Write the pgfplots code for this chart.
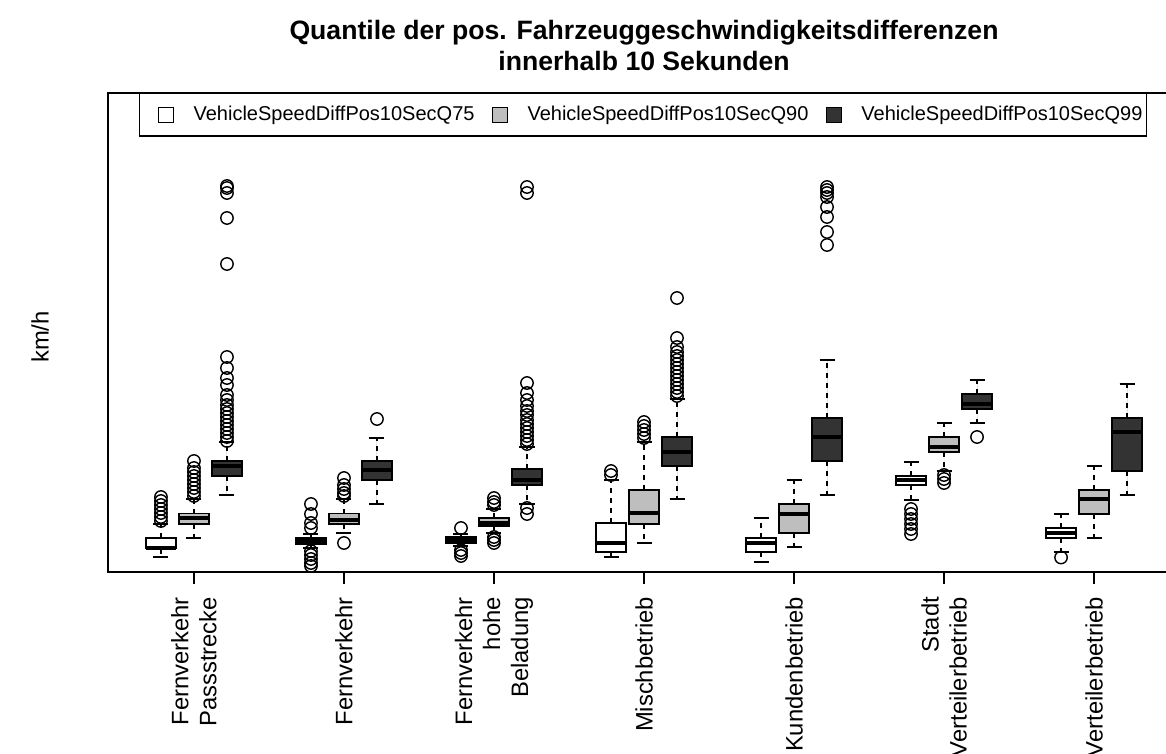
\documentclass[border=0pt]{standalone}
\usepackage{pgfplots}
\pgfplotsset{compat=1.18}
\usepgfplotslibrary{statistics}
\usepackage{fontspec}
\setmainfont{Liberation Sans}
\definecolor{qninety}{RGB}{190,190,190}
\definecolor{qnn}{RGB}{51,51,51}
\pgfplotsset{
  rbox/.style={forget plot, draw=black, line width=0.8pt, solid, mark=o, mark size=3.1pt,
    mark options={solid, line width=0.7pt, draw=black},
    boxplot/draw direction=y,
    boxplot/box extend=0.2, boxplot/whisker extend=0.1},
  boxplot/draw/lower whisker/.code={%
    \draw[dash pattern=on 2.5pt off 2.5pt] (boxplot box cs:\pgfplotsboxplotvalue{lower quartile},0.5) -- (boxplot box cs:\pgfplotsboxplotvalue{lower whisker},0.5);
    \draw[solid] (boxplot whisker cs:\pgfplotsboxplotvalue{lower whisker},0) -- (boxplot whisker cs:\pgfplotsboxplotvalue{lower whisker},1);
  },
  boxplot/draw/upper whisker/.code={%
    \draw[dash pattern=on 2.5pt off 2.5pt] (boxplot box cs:\pgfplotsboxplotvalue{upper quartile},0.5) -- (boxplot box cs:\pgfplotsboxplotvalue{upper whisker},0.5);
    \draw[solid] (boxplot whisker cs:\pgfplotsboxplotvalue{upper whisker},0) -- (boxplot whisker cs:\pgfplotsboxplotvalue{upper whisker},1);
  },
  boxplot/every median/.style={line width=2pt},
}
\begin{document}
\begin{tikzpicture}
\begin{axis}[name=a, scale only axis, width=536pt, height=239.5pt,
  xmin=-0.573, xmax=6.573, ymin=0, ymax=47.9,
  axis line style={line width=0.8pt},
  ytick=\empty,
  xtick={0,1,2,3,4,5,6},
  xticklabels={{Fernverkehr\\Passstrecke},{Fernverkehr},{Fernverkehr\\hohe\\Beladung},{Mischbetrieb},{Kundenbetrieb},{Stadt\\Verteilerbetrieb},{Verteilerbetrieb}},
  xtick pos=bottom, xtick align=outside, major tick length=6pt,
  tick style={line width=0.8pt, black},
  xticklabel shift=3pt,
  xticklabel style={rotate=90, anchor=east, align=right, font=\fontsize{11.9}{14}\selectfont},
  ylabel={km/h},
  ylabel style={at={(axis description cs:-0.0634,0.4906)}, anchor=center, font=\fontsize{11.9}{14}\selectfont},
  title={Quantile der pos. Fahrzeuggeschwindigkeitsdifferenzen\\innerhalb 10 Sekunden},
  title style={at={(axis description cs:0.5,1)}, anchor=south, yshift=1.5pt, align=center, font=\bfseries\fontsize{13.3}{15.5}\selectfont},
  legend columns=3,
  legend style={at={(axis description cs:0,1)}, anchor=north west, xshift=15.5pt,
    draw=black, line width=0.6pt, inner xsep=2pt, inner ysep=4.25pt,
    font=\fontsize{10}{12}\selectfont, nodes={inner xsep=0pt},
    /tikz/every even column/.append style={column sep=1.5pt}},
]
\addlegendimage{legend image code/.code={\path[draw=none,fill=none] (-7.5pt,-0.1pt) rectangle (17.5pt,0.1pt); \draw[black, solid, line width=0.6pt, fill=white] (0pt,-3.75pt) rectangle (7.5pt,3.75pt);}}
\addlegendentry{VehicleSpeedDiffPos10SecQ75}
\addlegendimage{legend image code/.code={\path[draw=none,fill=none] (-7.5pt,-0.1pt) rectangle (17.5pt,0.1pt); \draw[black, solid, line width=0.6pt, fill=qninety] (0pt,-3.75pt) rectangle (7.5pt,3.75pt);}}
\addlegendentry{VehicleSpeedDiffPos10SecQ90}
\addlegendimage{legend image code/.code={\path[draw=none,fill=none] (-7.5pt,-0.1pt) rectangle (17.5pt,0.1pt); \draw[black, solid, line width=0.6pt, fill=qnn] (0pt,-3.75pt) rectangle (7.5pt,3.75pt);}}
\addlegendentry{VehicleSpeedDiffPos10SecQ99}

% Group 1: Fernverkehr Passstrecke
\addplot[rbox, fill=white, boxplot prepared={draw position=-0.22, lower whisker=1.5, lower quartile=2.35, median=2.45, upper quartile=3.43, upper whisker=4.8}]
  coordinates {(0,5.1) (0,5.5) (0,5.9) (0,6.3) (0,6.7) (0,7.1) (0,7.5)};
\addplot[rbox, fill=qninety, boxplot prepared={draw position=0, lower whisker=3.4, lower quartile=4.8, median=5.4, upper quartile=5.83, upper whisker=7.3}]
  coordinates {(0,7.6) (0,8.0) (0,8.4) (0,8.8) (0,9.2) (0,9.6) (0,10.0) (0,10.4) (0,11.1)};
\addplot[rbox, fill=qnn, boxplot prepared={draw position=0.22, lower whisker=7.7, lower quartile=9.6, median=10.6, upper quartile=11.1, upper whisker=13.0}]
  coordinates {(0,13.1) (0,13.5) (0,13.9) (0,14.3) (0,14.7) (0,15.1) (0,15.5) (0,15.9) (0,16.3) (0,16.7) (0,17.2) (0,17.7) (0,18.7) (0,19.4) (0,20.4) (0,21.5) (0,30.8) (0,35.4) (0,37.9) (0,38.4) (0,38.6)};
% Group 2: Fernverkehr
\addplot[rbox, fill=white, boxplot prepared={draw position=0.78, lower whisker=2.4, lower quartile=2.8, median=3.1, upper quartile=3.43, upper whisker=3.8}]
  coordinates {(0,4.4) (0,4.9) (0,5.8) (0,6.8) (0,2.1) (0,1.7) (0,1.3) (0,0.9) (0,0.6)};
\addplot[rbox, fill=qninety, boxplot prepared={draw position=1, lower whisker=3.9, lower quartile=4.8, median=5.2, upper quartile=5.83, upper whisker=7.3}]
  coordinates {(0,7.6) (0,7.9) (0,8.3) (0,8.7) (0,9.4) (0,2.9)};
\addplot[rbox, fill=qnn, boxplot prepared={draw position=1.22, lower whisker=6.8, lower quartile=9.2, median=10.2, upper quartile=11.1, upper whisker=13.4}]
  coordinates {(0,15.3)};
% Group 3: Fernverkehr hohe Beladung
\addplot[rbox, fill=white, boxplot prepared={draw position=1.78, lower whisker=2.6, lower quartile=2.9, median=3.2, upper quartile=3.53, upper whisker=3.8}]
  coordinates {(0,4.4) (0,2.2) (0,1.9) (0,1.6)};
\addplot[rbox, fill=qninety, boxplot prepared={draw position=2, lower whisker=3.9, lower quartile=4.6, median=4.9, upper quartile=5.4, upper whisker=6.3}]
  coordinates {(0,6.7) (0,7.0) (0,7.4) (0,3.5) (0,3.2) (0,2.9)};
\addplot[rbox, fill=qnn, boxplot prepared={draw position=2.22, lower whisker=6.8, lower quartile=8.7, median=9.2, upper quartile=10.3, upper whisker=12.5}]
  coordinates {(0,6.4) (0,5.8) (0,12.8) (0,13.2) (0,13.6) (0,14.0) (0,14.4) (0,14.8) (0,15.2) (0,15.7) (0,16.1) (0,16.6) (0,17.2) (0,17.9) (0,18.9) (0,37.9) (0,38.5)};
% Group 4: Mischbetrieb
\addplot[rbox, fill=white, boxplot prepared={draw position=2.78, lower whisker=1.5, lower quartile=2.0, median=2.9, upper quartile=4.9, upper whisker=9.2}]
  coordinates {(0,9.7) (0,10.1)};
\addplot[rbox, fill=qninety, boxplot prepared={draw position=3, lower whisker=2.9, lower quartile=4.8, median=5.9, upper quartile=8.2, upper whisker=13.0}]
  coordinates {(0,13.4) (0,13.8) (0,14.2) (0,14.6) (0,15.0)};
\addplot[rbox, fill=qnn, boxplot prepared={draw position=3.22, lower whisker=7.3, lower quartile=10.6, median=12.0, upper quartile=13.5, upper whisker=17.3}]
  coordinates {(0,17.6) (0,18.0) (0,18.4) (0,18.8) (0,19.2) (0,19.6) (0,20.0) (0,20.4) (0,20.8) (0,21.2) (0,21.6) (0,22.0) (0,22.5) (0,23.4) (0,27.4)};
% Group 5: Kundenbetrieb
\addplot[rbox, fill=white, boxplot prepared={draw position=3.78, lower whisker=1.0, lower quartile=2.0, median=2.9, upper quartile=3.4, upper whisker=5.4}]
  coordinates {};
\addplot[rbox, fill=qninety, boxplot prepared={draw position=4, lower whisker=2.5, lower quartile=3.9, median=5.8, upper quartile=6.8, upper whisker=9.2}]
  coordinates {};
\addplot[rbox, fill=qnn, boxplot prepared={draw position=4.22, lower whisker=7.7, lower quartile=11.1, median=13.5, upper quartile=15.4, upper whisker=21.2}]
  coordinates {(0,32.7) (0,34.0) (0,35.5) (0,36.5) (0,37.5) (0,37.9) (0,38.2) (0,38.5)};
% Group 6: Stadt Verteilerbetrieb
\addplot[rbox, fill=white, boxplot prepared={draw position=4.78, lower whisker=7.2, lower quartile=8.7, median=9.2, upper quartile=9.6, upper whisker=11.0}]
  coordinates {(0,6.3) (0,5.8) (0,5.3) (0,4.8) (0,4.3) (0,3.8)};
\addplot[rbox, fill=qninety, boxplot prepared={draw position=5, lower whisker=10.1, lower quartile=12.0, median=12.5, upper quartile=13.5, upper whisker=14.9}]
  coordinates {(0,9.7) (0,9.3) (0,8.9)};
\addplot[rbox, fill=qnn, boxplot prepared={draw position=5.22, lower whisker=14.9, lower quartile=16.3, median=16.8, upper quartile=17.8, upper whisker=19.2}]
  coordinates {(0,13.5)};
% Group 7: Verteilerbetrieb
\addplot[rbox, fill=white, boxplot prepared={draw position=5.78, lower whisker=2.0, lower quartile=3.4, median=3.9, upper quartile=4.4, upper whisker=5.8}]
  coordinates {(0,1.45)};
\addplot[rbox, fill=qninety, boxplot prepared={draw position=6, lower whisker=3.4, lower quartile=5.8, median=7.3, upper quartile=8.2, upper whisker=10.6}]
  coordinates {};
\addplot[rbox, fill=qnn, boxplot prepared={draw position=6.22, lower whisker=7.7, lower quartile=10.1, median=14.0, upper quartile=15.4, upper whisker=18.8}]
  coordinates {};
\end{axis}
\pgfresetboundingbox
\useasboundingbox (a.south west) ++(-54pt,-91pt) rectangle ++(583pt,377pt);
\end{tikzpicture}
\end{document}
